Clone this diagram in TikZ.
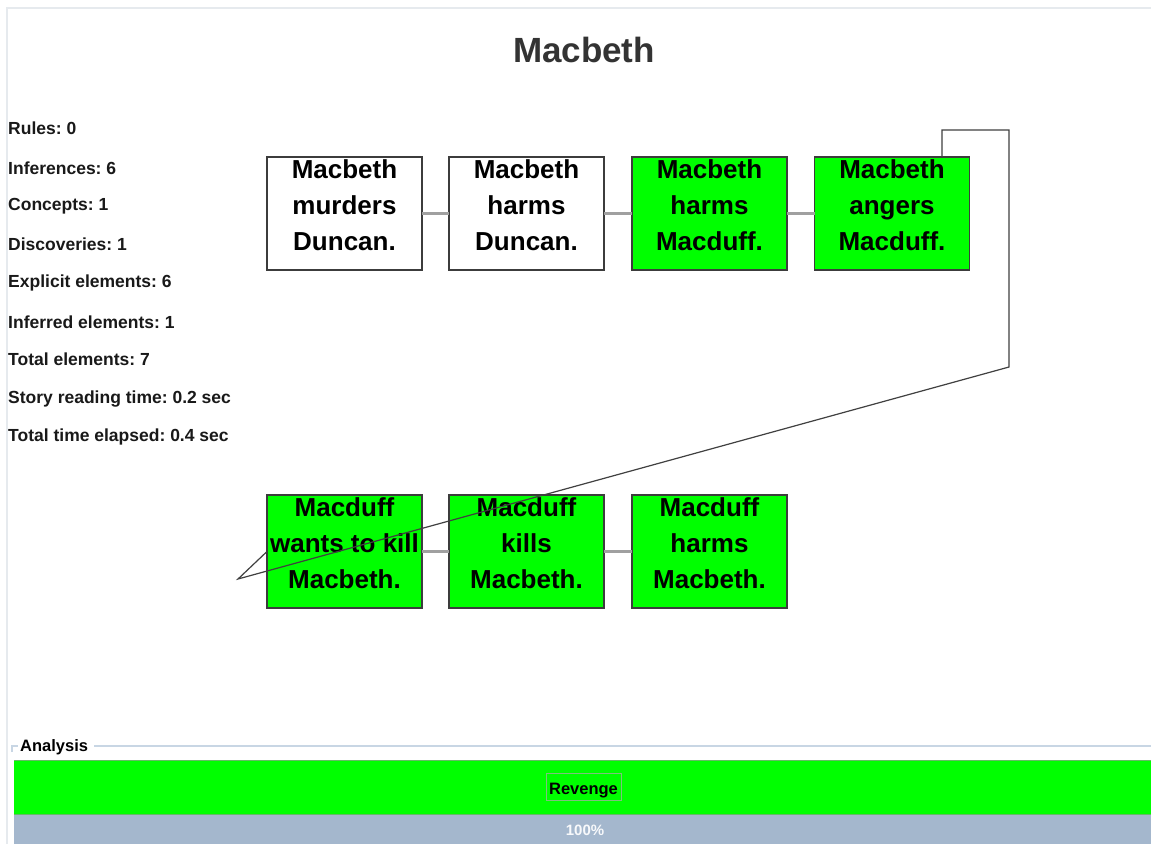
\documentclass[tikz,border=0pt]{standalone}
\usepackage{fontspec}
\setmainfont{Liberation Sans}
\frenchspacing
\begin{document}
\begin{tikzpicture}[x=1pt,y=-1pt,
  box/.style={draw=boxborder,line width=1.2pt,minimum width=155pt,minimum height=113pt,inner sep=0pt,outer sep=0pt},
  grn/.style={box,fill=evgreen},
  wht/.style={box,fill=white},
  boxtxt/.style={align=center,font=\fontsize{26}{36}\selectfont\bfseries,yshift=8.5pt,inner sep=0pt},
  link/.style={draw=linkgray,line width=2.4pt},
  loop/.style={draw=loopgray,line width=1.2pt},
  stat/.style={anchor=west,font=\fontsize{17.5}{19}\selectfont\bfseries,inner sep=0pt,text=black!90}
]
\definecolor{boxborder}{HTML}{3C3C3C}
\definecolor{evgreen}{HTML}{00FF00}
\definecolor{linkgray}{HTML}{A0A0A0}
\definecolor{loopgray}{HTML}{404040}
\definecolor{framegray}{HTML}{E6EAEE}
\definecolor{titlegray}{HTML}{333333}
\definecolor{sepblue}{HTML}{C8D6E4}
\definecolor{barblue}{HTML}{A4B7CD}
\definecolor{revborder}{HTML}{7FBF7F}
\useasboundingbox (0,0) rectangle (1151,844);
\fill[white] (0,0) rectangle (1151,844);
% window frame
\draw[framegray,line width=1.5pt] (7,844) -- (7,8) -- (1151,8);
% title
\node[font=\fontsize{35}{40}\selectfont\bfseries,text=titlegray] (title) at (584,50) {Macbeth};
% stats
\node[stat] (s1) at (8,128) {Rules: 0};
\node[stat] (s2) at (8,168) {Inferences: 6};
\node[stat] (s3) at (8,206) {Concepts: 1};
\node[stat] (s4) at (8,244) {Discoveries: 1};
\node[stat] (s5) at (8,283) {Explicit elements: 6};
\node[stat] (s6) at (8,322) {Inferred elements: 1};
\node[stat] (s7) at (8,359) {Total elements: 7};
\node[stat] (s8) at (8,399) {Story reading time: 0.2 sec};
\node[stat] (s9) at (8,437) {Total time elapsed: 0.4 sec};
% boxes
\node[wht,label={[boxtxt]center:Macbeth\\murders\\Duncan.}] (b1) at (344.5,213.5) {};
\node[wht,label={[boxtxt]center:Macbeth\\harms\\Duncan.}] (b2) at (526.5,213.5) {};
\node[grn,label={[boxtxt]center:Macbeth\\harms\\Macduff.}] (b3) at (709.5,213.5) {};
\node[grn,label={[boxtxt]center:Macbeth\\angers\\Macduff.}] (b4) at (892,213.5) {};
\node[grn,label={[boxtxt]center:Macduff\\wants to kill\\Macbeth.}] (b5) at (344.5,551.5) {};
\node[grn,label={[boxtxt]center:Macduff\\kills\\Macbeth.}] (b6) at (526.5,551.5) {};
\node[grn,label={[boxtxt]center:Macduff\\harms\\Macbeth.}] (b7) at (709.5,551.5) {};
% links
\draw[link] (b1.east) -- (b2.west);
\draw[link] (b2.east) -- (b3.west);
\draw[link] (b3.east) -- (b4.west);
\draw[link] (b5.east) -- (b6.west);
\draw[link] (b6.east) -- (b7.west);
% long connector
\coordinate (k1) at (942,130);
\coordinate (k2) at (1009,130);
\coordinate (k3) at (1009,367);
\coordinate (k4) at (238,579);
\draw[loop] (b4.north -| k1) -- (k1) -- (k2) -- (k3) -- (k4) -- (b5.west);
% analysis panel
\draw[sepblue,line width=1.2pt] (12,752) -- (12,746) -- (18,746);
\draw[sepblue,line width=1.2pt] (94,746) -- (1151,746);
\node[anchor=west,font=\fontsize{16.5}{18}\selectfont\bfseries,inner sep=0pt] (an) at (20,747) {Analysis};
\fill[evgreen] (14,760) rectangle (1151,814);
\draw[green!55!black!60,line width=0.8pt] (14,760) -- (1151,760) (14,814) -- (1151,814);
\node[draw=revborder,line width=0.8pt,minimum width=75pt,minimum height=27pt,inner sep=0pt,text height=15pt,text depth=0pt,font=\fontsize{16.5}{18}\selectfont\bfseries] (rev) at (583.5,786.5) {Revenge};
\fill[barblue] (14,815) rectangle (1151,844);
\node[font=\fontsize{15}{17}\selectfont\bfseries,text=white!92!barblue,inner sep=0pt] (pct) at (585,830) {100\%};
\end{tikzpicture}
\end{document}
